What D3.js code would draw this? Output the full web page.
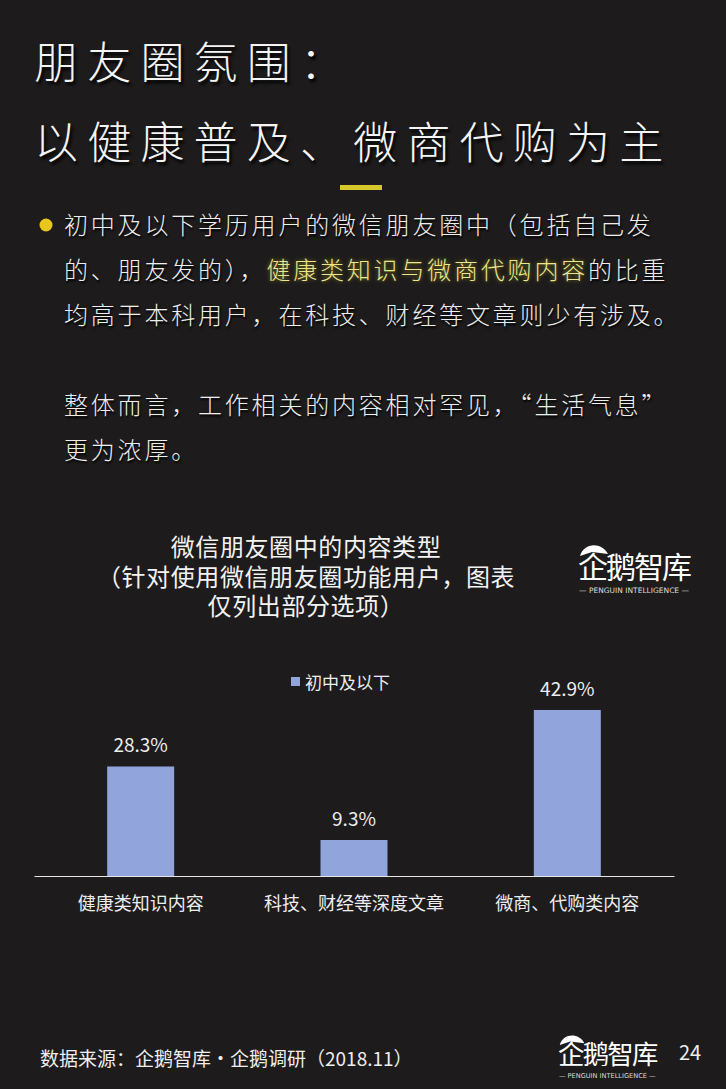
<!DOCTYPE html>
<html>
<head>
<meta charset="utf-8">
<script src="https://cdn.jsdelivr.net/npm/d3@7"></script>
<style>
  html, body { margin: 0; padding: 0; background: #1d1b1c; }
  svg { display: block; }
  text { font-family: "Noto Sans CJK SC", "Noto Sans", sans-serif; }
</style>
</head>
<body>
<div id="slide"></div>
<script>
// chart data
const categories = ["健康类知识内容", "科技、财经等深度文章", "微商、代购类内容"];
const values = [28.3, 9.3, 42.9];
const seriesName = "初中及以下";

const titleLines = ["朋友圈氛围：", "以健康普及、微商代购为主"];
const chartTitle = ["微信朋友圈中的内容类型", "（针对使用微信朋友圈功能用户，图表", "仅列出部分选项）"];

const width = 726, height = 1089;
const barColor = "#91a5dc";

const svg = d3.select("#slide")
  .append("svg")
    .attr("width", width)
    .attr("height", height);

svg.append("rect")
  .attr("width", width).attr("height", height)
  .attr("fill", "#1d1b1c");

// headline
svg.selectAll(".headline")
  .data(titleLines)
  .join("text")
    .attr("class", "headline")
    .attr("x", 34)
    .attr("y", (d, i) => 79 + i * 80)
    .attr("fill", "#f4f4f4")
    .style("font-size", "44px")
    .style("font-weight", 300)
    .style("letter-spacing", "9.2px")
    .style("text-shadow", "2px 3px 3px #000")
    .text(d => d);

svg.append("rect")
  .attr("x", 340).attr("y", 185)
  .attr("width", 42).attr("height", 5)
  .attr("fill", "#d6c72a");

// bullet paragraph
svg.append("circle")
  .attr("cx", 46).attr("cy", 225).attr("r", 6.5)
  .attr("fill", "#e8c71c");

const para = [
  [["初中及以下学历用户的微信朋友圈中（包括自己发", false]],
  [["的、朋友发的），", false], ["健康类知识与微商代购内容", true], ["的比重", false]],
  [["均高于本科用户，在科技、财经等文章则少有涉及。", false]],
  [],
  [["整体而言，工作相关的内容相对罕见，“生活气息”", false]],
  [["更为浓厚。", false]]
];
const paraY = [234, 279, 324, 369, 414, 459];

para.forEach((line, i) => {
  if (!line.length) return;
  const t = svg.append("text")
    .attr("x", 64)
    .attr("y", paraY[i])
    .style("font-size", "24px")
    .style("font-weight", 300)
    .style("letter-spacing", "2.8px")
    .style("text-shadow", "1px 2px 2px #000");
  line.forEach(([s, hi]) => {
    t.append("tspan")
      .attr("fill", hi ? "#ece58c" : "#eeeeee")
      .style("text-shadow", hi ? "0 0 4px #8a8420" : null)
      .text(s);
  });
});

// chart title
svg.selectAll(".ctitle")
  .data(chartTitle)
  .join("text")
    .attr("class", "ctitle")
    .attr("x", 306)
    .attr("y", (d, i) => 556 + i * 29.5)
    .attr("text-anchor", "middle")
    .attr("fill", "#f2f2f2")
    .style("font-size", "24px")
    .style("letter-spacing", "0.6px")
    .text(d => d);

// logo helper
const drawLogo = (x, y, s) => {
  const g = svg.append("g").attr("transform", `translate(${x},${y}) scale(${s})`);
  g.append("path")
    .attr("d", "M2,8 C6,-6 24,-6 30,6 L14,4 Z")
    .attr("fill", "#fff");
  g.append("text")
    .attr("x", 0).attr("y", 30)
    .attr("fill", "#fff")
    .style("font-size", "30px")
    .style("letter-spacing", "-2px")
    .text("企鹅智库");
  g.append("text")
    .attr("x", 56).attr("y", 45)
    .attr("text-anchor", "middle")
    .attr("fill", "#ddd")
    .style("font-size", "7.5px")
    .style("font-family", "DejaVu Sans, sans-serif")
    .text("— PENGUIN  INTELLIGENCE —");
};
drawLogo(578, 548, 1);
drawLogo(558, 1038, 0.88);

// legend
svg.append("rect")
  .attr("x", 291).attr("y", 677)
  .attr("width", 9).attr("height", 9)
  .attr("fill", barColor);
svg.append("text")
  .attr("x", 305).attr("y", 689)
  .attr("fill", "#eeeeee")
  .style("font-size", "17px")
  .text(seriesName);

// scales
const x = d3.scaleBand()
  .domain(categories)
  .range([34, 674])
  .paddingInner(0.686)
  .paddingOuter(0.343);

const y = d3.scaleLinear()
  .domain([0, 45])
  .range([876, 876 - 45 * 3.87]);

const data = categories.map((c, i) => ({ cat: c, val: values[i] }));

svg.selectAll(".bar")
  .data(data)
  .join("rect")
    .attr("class", "bar")
    .attr("x", d => x(d.cat))
    .attr("y", d => y(d.val))
    .attr("width", x.bandwidth())
    .attr("height", d => y(0) - y(d.val))
    .attr("fill", barColor);

svg.selectAll(".val")
  .data(data)
  .join("text")
    .attr("class", "val")
    .attr("x", d => x(d.cat) + x.bandwidth() / 2)
    .attr("y", d => y(d.val) - 14)
    .attr("text-anchor", "middle")
    .attr("fill", "#eeeeee")
    .style("font-size", "19px")
    .text(d => d3.format(".1f")(d.val) + "%");

// x axis
const xAxis = svg.append("g")
  .attr("transform", `translate(0,${y(0)})`)
  .call(d3.axisBottom(x).tickSize(0).tickPadding(21));
xAxis.select(".domain").attr("stroke", "#e6e6e6").attr("stroke-width", 1.2);
xAxis.selectAll("text")
  .attr("fill", "#eeeeee")
  .style("font-size", "18px")
  .style("font-family", "'Noto Sans CJK SC', sans-serif");

// footer
svg.append("text")
  .attr("x", 40).attr("y", 1066)
  .attr("fill", "#eeeeee")
  .style("font-size", "19px")
  .text("数据来源：企鹅智库·企鹅调研（2018.11）");
svg.append("text")
  .attr("x", 679).attr("y", 1060)
  .attr("fill", "#eeeeee")
  .style("font-size", "20px")
  .text("24");
</script>
</body>
</html>
